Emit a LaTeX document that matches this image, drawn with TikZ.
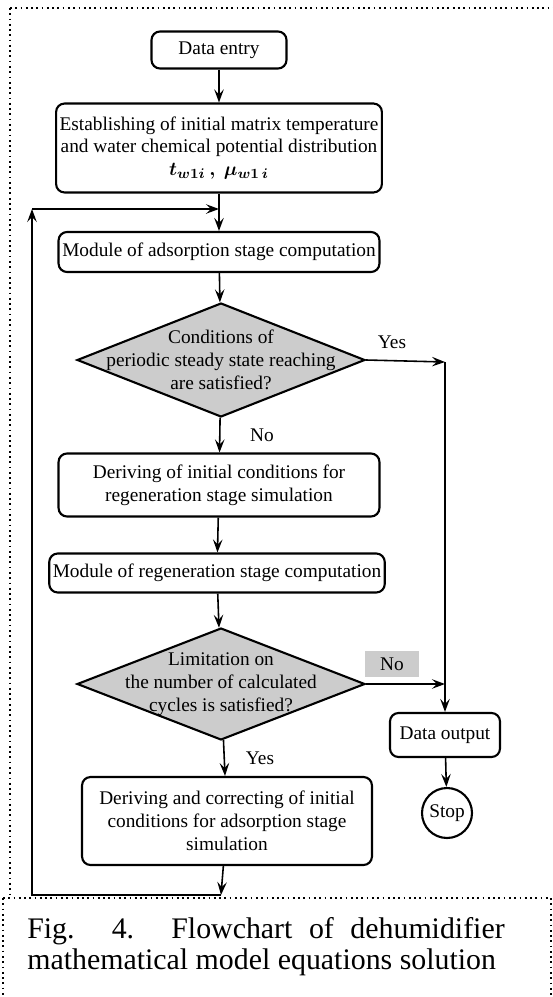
\documentclass[tikz,border=0pt]{standalone}
\usepackage{amsmath}
\usepackage{fontspec}
\setmainfont{Liberation Serif}
\usetikzlibrary{shapes,arrows.meta,calc}
\usetikzlibrary{shapes.geometric, positioning}

\tikzset{
  block/.style={draw, line width=1.2pt, rounded corners=0.17cm, align=center, inner sep=2pt,
    font=\fontsize{11}{13}\selectfont},
  decision/.style={draw, diamond, line width=1.2pt, fill=black!20, inner sep=0pt,
    minimum width=5.76cm, minimum height=2.28cm},
  txt/.style={align=center, font=\fontsize{11}{13}\selectfont},
  flow/.style={line width=0.9pt, -{Stealth[length=2.6mm,width=1.9mm,inset=1mm]}},
  frame/.style={line width=1pt, dotted}
}

\begin{document}
\begin{tikzpicture}[x=0.02cm, y=-0.02cm]
            \useasboundingbox (0,0) rectangle (553,997);
            % outer frame and caption box
            \draw[frame] (10,8) -- (553,8);
            \draw[frame] (10,8) -- (10,897);
            \draw[frame] (3,898) -- (551,898) -- (551,997);
            \draw[frame] (3,898) -- (3,997);

            \draw (219,50) node[block, minimum width=2.7cm, minimum height=0.74cm] (entry) {Data entry};
            \draw (219,148) node[block, minimum width=6.42cm, minimum height=1.78cm] (init)
              {Establishing of initial matrix temperature\\and water chemical potential distribution\\
               {\boldmath$t_{w1i}\,,\ \mu_{w1\,i}$}};
            \draw (219,252) node[block, minimum width=6.42cm, minimum height=0.8cm] (adsmod)
              {Module of adsorption stage computation};
            \draw (221,360) node[decision] (cond1) {};
            \draw (cond1) node[txt] (cond1text)
              {Conditions of\\periodic steady state reaching\\are satisfied?};
            \draw (219,485) node[block, minimum width=6.42cm, minimum height=1.26cm] (regcond)
              {Deriving of initial conditions for\\regeneration stage simulation};
            \draw (217,573) node[block, minimum width=6.6cm, minimum height=0.78cm] (regmod)
              {Module of regeneration stage computation};
            \draw (221,684) node[decision, minimum height=2.24cm] (cond2) {};
            \draw (cond2) node[txt] (cond2text)
              {Limitation on\\the number of calculated\\cycles is satisfied?};
            \draw (227,821) node[block, minimum width=5.8cm, minimum height=1.76cm] (corr)
              {Deriving and correcting of initial\\conditions for adsorption stage\\simulation};
            \draw (445,735) node[block, minimum width=2.2cm, minimum height=0.88cm] (output) {Data output};
            \draw (447,813) node[circle, draw, line width=1.2pt, minimum size=1cm, inner sep=0pt, txt] (stop) {Stop};

            % branch labels
            \draw (392,342) node[txt] (yes1) {Yes};
            \draw (262,435) node[txt] (no1) {No};
            \draw (392,664) node[txt, fill=black!20, minimum width=1.08cm, minimum height=0.52cm] (no2) {No};
            \draw (260,758) node[txt] (yes2) {Yes};

            \coordinate (merge) at (219,209);
            \coordinate (yescorner) at (445,362);
            \coordinate (fbbottom) at (221,895);
            \coordinate (fbleft) at (32,895);
            \coordinate (fbtop) at (32,209);

            \path[flow]
            (entry) edge (init)
            (init) edge (adsmod)
            (adsmod) edge (cond1)
            (cond1) edge (regcond)
            (regcond) edge (regmod)
            (regmod) edge (cond2)
            (cond2) edge (corr)
            (cond1.east) edge (yescorner)
            (yescorner) edge (output)
            (cond2.east) edge (output.north |- cond2.east)
            (output) edge (stop)
            (corr) edge (fbbottom)
            (fbtop) edge (merge);
            \draw[flow] (fbbottom) -- (fbleft) -- (fbtop);

            % caption
            \draw (266,947) node[text width=9.55cm, align=justify, inner sep=0pt,
              font=\fontsize{17}{17.5}\selectfont] (caption)
              {\hyphenpenalty=10000 \parfillskip=0pt Fig. 4. Flowchart of dehumidifier\linebreak
               mathematical model equations solution};
        \end{tikzpicture}
\end{document}
